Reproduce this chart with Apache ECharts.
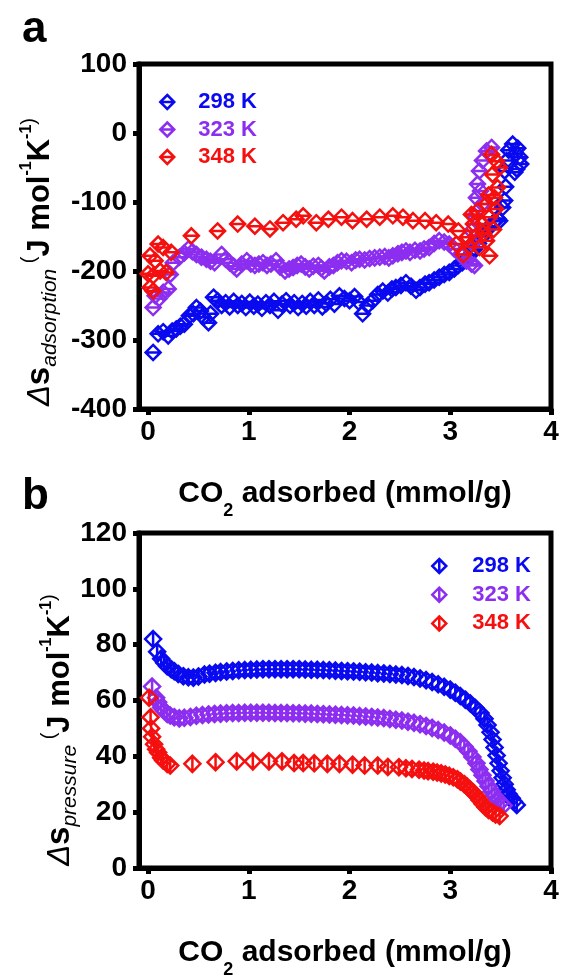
<!DOCTYPE html>
<html>
<head>
<meta charset="utf-8">
<script src="https://cdn.jsdelivr.net/npm/echarts@6/dist/echarts.min.js"></script>
<style>
  html, body { margin: 0; padding: 0; background: #fff; }
  #chart { width: 562px; height: 980px; }
</style>
</head>
<body>
<div id="chart"></div>
<script>
// 数据
var seriesNames = ['298 K', '323 K', '348 K'];
var xTicks = [0, 1, 2, 3, 4];

// a: Δs adsorption
var a298 = [[0.05,-318],[0.10,-291],[0.15,-288],[0.20,-294],[0.24,-287],[0.28,-284],[0.32,-280],[0.36,-277],[0.41,-265],[0.45,-262],
  [0.48,-253],[0.52,-258],[0.55,-267],[0.60,-275],[0.62,-262],[0.65,-238],[0.69,-243],[0.73,-250],[0.77,-246],[0.81,-252],
  [0.85,-244],[0.89,-250],[0.93,-247],[0.97,-253],[1.01,-245],[1.05,-251],[1.09,-248],[1.13,-254],[1.17,-246],[1.21,-250],
  [1.25,-244],[1.29,-257],[1.33,-248],[1.37,-243],[1.41,-250],[1.45,-246],[1.49,-253],[1.53,-247],[1.57,-251],[1.61,-244],
  [1.65,-250],[1.69,-242],[1.73,-252],[1.77,-247],[1.81,-241],[1.85,-248],[1.90,-236],[1.95,-240],[2.00,-243],[2.05,-237],
  [2.09,-245],[2.13,-262],[2.18,-250],[2.23,-243],[2.28,-234],[2.33,-229],[2.38,-232],[2.42,-226],[2.46,-224],[2.51,-221],
  [2.56,-217],[2.61,-222],[2.66,-228],[2.70,-224],[2.75,-219],[2.79,-217],[2.84,-213],[2.89,-209],[2.94,-205],[2.99,-202],
  [3.04,-197],[3.08,-192],[3.12,-188],[3.16,-185],[3.20,-176],[3.24,-168],[3.28,-160],[3.32,-150],[3.36,-140],[3.40,-135],
  [3.44,-128],[3.47,-124],[3.49,-127],[3.52,-108],[3.54,-98],[3.55,-78],[3.54,-55],[3.56,-40],[3.58,-25],[3.62,-16],
  [3.65,-30],[3.67,-22],[3.69,-35],[3.70,-45],[3.66,-52],[3.64,-57]];
var a323 = [[0.05,-253],[0.07,-236],[0.11,-240],[0.15,-231],[0.20,-226],[0.22,-205],[0.25,-188],[0.31,-180],[0.36,-174],[0.40,-168],
  [0.44,-172],[0.48,-176],[0.53,-180],[0.58,-183],[0.62,-186],[0.66,-188],[0.73,-176],[0.77,-183],[0.81,-188],[0.85,-193],
  [0.88,-197],[0.93,-190],[0.98,-185],[1.02,-190],[1.06,-192],[1.10,-190],[1.14,-188],[1.18,-192],[1.22,-190],[1.27,-185],
  [1.31,-194],[1.36,-200],[1.40,-197],[1.44,-195],[1.48,-192],[1.52,-190],[1.56,-194],[1.60,-197],[1.64,-193],[1.69,-192],
  [1.72,-196],[1.75,-200],[1.80,-194],[1.84,-192],[1.88,-188],[1.92,-185],[1.97,-186],[2.02,-188],[2.06,-184],[2.10,-183],
  [2.15,-184],[2.20,-182],[2.25,-181],[2.30,-180],[2.35,-179],[2.39,-181],[2.43,-178],[2.48,-175],[2.52,-173],[2.56,-171],
  [2.60,-173],[2.65,-170],[2.70,-171],[2.74,-168],[2.79,-166],[2.84,-160],[2.89,-156],[2.94,-158],[2.99,-161],[3.04,-168],
  [3.10,-176],[3.16,-185],[3.21,-190],[3.24,-192],[3.22,-160],[3.21,-142],[3.24,-120],[3.26,-94],[3.27,-74],[3.29,-55],
  [3.32,-40],[3.36,-26],[3.41,-21],[3.32,-103],[3.30,-84]];
var a348 = [[0.00,-204],[0.02,-224],[0.05,-229],[0.05,-207],[0.07,-185],[0.02,-178],[0.10,-161],[0.12,-200],[0.15,-166],[0.18,-202],
  [0.23,-173],[0.43,-149],[0.69,-142],[0.89,-132],[1.06,-135],[1.21,-139],[1.34,-130],[1.47,-125],[1.54,-120],[1.67,-130],
  [1.79,-125],[1.92,-122],[2.03,-127],[2.17,-125],[2.30,-122],[2.43,-120],[2.53,-122],[2.63,-127],[2.75,-127],[2.86,-130],
  [2.98,-132],[3.08,-142],[3.06,-161],[3.13,-176],[3.17,-151],[3.21,-118],[3.23,-132],[3.27,-113],[3.29,-166],[3.32,-132],
  [3.36,-103],[3.36,-156],[3.39,-122],[3.39,-178],[3.42,-60],[3.41,-31],[3.44,-94],[3.46,-41],[3.47,-79],[3.49,-50],
  [3.33,-145],[3.25,-150],[3.19,-165],[3.38,-90],[3.43,-140],[3.45,-110]];

// b: Δs pressure
var b298 = [[0.05,82],[0.09,77.5],[0.13,75],[0.16,73.5],[0.19,72.3],[0.23,71.2],[0.26,70.5],[0.30,69.5],[0.35,68.7],[0.40,68.3],
  [0.45,68.2],[0.50,68.6],[0.56,69.3],[0.61,69.6],[0.67,69.9],[0.72,70.2],[0.78,70.4],[0.84,70.6],[0.90,70.8],[0.96,70.9],
  [1.02,71.0],[1.08,71.1],[1.14,71.2],[1.20,71.2],[1.26,71.2],[1.32,71.2],[1.38,71.2],[1.44,71.2],[1.50,71.2],[1.56,71.1],
  [1.62,71.0],[1.68,71.0],[1.74,70.9],[1.80,70.8],[1.86,70.7],[1.92,70.6],[1.98,70.5],[2.04,70.4],[2.10,70.3],[2.16,70.1],
  [2.22,70.0],[2.28,69.8],[2.34,69.7],[2.40,69.5],[2.46,69.3],[2.52,69.1],[2.58,68.8],[2.64,68.4],[2.70,67.9],[2.76,67.3],
  [2.82,66.6],[2.88,65.8],[2.94,64.9],[3.00,63.9],[3.05,62.8],[3.10,61.6],[3.15,60.3],[3.20,58.9],[3.25,57.3],[3.30,55.5],
  [3.34,53.5],[3.37,51.2],[3.40,48.6],[3.42,46.0],[3.44,43.2],[3.46,40.3],[3.48,37.5],[3.50,34.8],[3.52,32.3],[3.54,30.0],
  [3.56,28.0],[3.58,26.4],[3.61,25.0],[3.63,23.8],[3.66,22.6]];
var b323 = [[0.04,65],[0.08,61],[0.10,59.4],[0.13,57.5],[0.16,56.3],[0.19,55.2],[0.22,54.6],[0.26,54.0],[0.31,53.6],[0.36,53.8],
  [0.42,54.1],[0.48,54.5],[0.54,54.8],[0.60,55.0],[0.66,55.2],[0.72,55.3],[0.78,55.4],[0.84,55.5],[0.90,55.5],[0.96,55.6],
  [1.02,55.6],[1.08,55.6],[1.14,55.6],[1.20,55.6],[1.26,55.5],[1.32,55.5],[1.38,55.5],[1.44,55.4],[1.50,55.4],[1.56,55.3],
  [1.62,55.3],[1.68,55.2],[1.74,55.1],[1.80,55.0],[1.86,54.9],[1.92,54.8],[1.98,54.7],[2.04,54.6],[2.10,54.4],[2.16,54.3],
  [2.22,54.1],[2.28,53.9],[2.34,53.7],[2.40,53.4],[2.46,53.1],[2.52,52.8],[2.58,52.4],[2.64,52.0],[2.70,51.5],[2.76,50.9],
  [2.82,50.2],[2.88,49.4],[2.94,48.5],[3.00,47.5],[3.05,46.3],[3.10,45.0],[3.14,43.5],[3.18,41.8],[3.22,39.8],[3.26,37.5],
  [3.29,35.3],[3.32,33.2],[3.35,31.2],[3.38,29.3],[3.41,27.5],[3.44,25.9],[3.47,24.6],[3.50,23.4],[3.53,22.4]];
var b348 = [[0.01,61],[0.025,54],[0.03,50],[0.04,47],[0.06,44.3],[0.08,42.5],[0.10,41.4],[0.13,39.5],[0.15,38.5],[0.19,37.3],
  [0.22,36.7],[0.44,37.3],[0.67,37.9],[0.88,38.2],[1.04,38.2],[1.20,38.2],[1.33,38.2],[1.45,37.6],[1.54,37.6],[1.65,37.5],
  [1.78,37.3],[1.90,37.3],[2.03,37.0],[2.15,36.7],[2.28,36.7],[2.38,36.2],[2.49,36.1],[2.56,35.7],[2.62,35.5],[2.69,35.2],
  [2.74,34.9],[2.78,34.7],[2.83,34.5],[2.87,34.2],[2.91,33.9],[2.95,33.5],[2.99,33.0],[3.03,32.5],[3.07,31.8],[3.10,31.0],
  [3.14,30.0],[3.17,29.1],[3.20,28.0],[3.23,27.0],[3.26,25.8],[3.29,24.4],[3.32,23.0],[3.35,21.8],[3.38,20.8],[3.42,19.9],
  [3.45,19.2],[3.49,18.6]];

var colors = ['#0a0af0', '#8c2ef0', '#f51010'];
var FONT = 'Liberation Sans, Arial, sans-serif';
// 菱形 + 横线 / 竖线
var symA = 'path://M0,-10L10,0L0,10L-10,0ZM-10,0L10,0';
var symB = 'path://M0,-10L10,0L0,10L-10,0ZM0,-10L0,10';

function scatter(name, data, idx, sym, size, color) {
  return {
    name: name,
    type: 'scatter',
    xAxisIndex: idx,
    yAxisIndex: idx,
    data: data,
    symbol: sym,
    symbolSize: size,
    itemStyle: { color: 'rgba(0,0,0,0)', borderColor: color, borderWidth: 2.5, opacity: 1 },
    emphasis: { disabled: true }
  };
}

function xAxisOf(idx) {
  return {
    gridIndex: idx, type: 'value', min: -0.09, max: 4,
    axisLine: { onZero: false, lineStyle: { color: '#000', width: 5 } },
    axisTick: { customValues: xTicks, length: 6, lineStyle: { color: '#000', width: 5 } },
    axisLabel: { customValues: xTicks, color: '#000', fontSize: 28, fontWeight: 'bold', fontFamily: FONT, margin: 9 },
    splitLine: { show: false },
    name: 'CO{sub|2} adsorbed (mmol/g)',
    nameLocation: 'middle',
    nameGap: 58,
    nameTextStyle: {
      color: '#000', fontSize: 30, fontWeight: 'bold', fontFamily: FONT, lineHeight: 53,
      rich: { sub: { fontSize: 18, fontWeight: 'bold', fontFamily: FONT, color: '#000', lineHeight: 18, verticalAlign: 'bottom' } }
    }
  };
}

function yAxisOf(idx, min, max, step) {
  return {
    gridIndex: idx, type: 'value', min: min, max: max, interval: step,
    axisLine: { onZero: false, lineStyle: { color: '#000', width: 5 } },
    axisTick: { length: 6, lineStyle: { color: '#000', width: 5 } },
    axisLabel: { color: '#000', fontSize: 28, fontWeight: 'bold', fontFamily: FONT, margin: 12 },
    splitLine: { show: false }
  };
}

function legendOf(left, top, gap, pad, icon) {
  return {
    orient: 'vertical', left: left, top: top, padding: 0,
    itemWidth: 14, itemHeight: 14, itemGap: gap,
    selectedMode: false,
    textStyle: { fontSize: 22, fontWeight: 'bold', fontFamily: FONT, lineHeight: 22, padding: [0, 0, 0, pad] },
    data: seriesNames.map(function (n, i) {
      return {
        name: n, icon: icon,
        itemStyle: { color: 'rgba(0,0,0,0)', borderColor: colors[i], borderWidth: 2.5 },
        textStyle: { color: colors[i] }
      };
    })
  };
}

var yRich = {
  d: { fontSize: 31, fontStyle: 'italic', fontFamily: FONT, color: '#000', lineHeight: 42 },
  s: { fontSize: 33, fontWeight: 'bold', fontFamily: FONT, color: '#000', lineHeight: 42 },
  sub: { fontSize: 21, fontStyle: 'italic', fontFamily: FONT, color: '#000', lineHeight: 19, verticalAlign: 'bottom' },
  m: { fontSize: 31, fontWeight: 'bold', fontFamily: FONT, color: '#000', lineHeight: 42 },
  sup: { fontSize: 16, fontWeight: 'bold', fontFamily: FONT, color: '#000', lineHeight: 16, verticalAlign: 'top' },
  p: { fontSize: 20, fontFamily: FONT, color: '#000', lineHeight: 20, verticalAlign: 'top' }
};

function yTitle(x, y, sub) {
  return {
    type: 'text', x: x, y: y, rotation: Math.PI / 2,
    style: {
      text: '{d|Δ}{s|s}{sub|' + sub + '}{p| (}{m|J mol}{sup|-1}{m|K}{sup|-1}{p|)}',
      rich: yRich, align: 'center', verticalAlign: 'middle'
    }
  };
}

var chart = echarts.init(document.getElementById('chart'));

var option = {
  animation: false,
  backgroundColor: '#fff',
  textStyle: { fontFamily: FONT },
  grid: [
    { left: 139, right: 11, top: 64, height: 345, show: true, borderColor: '#000', borderWidth: 5 },
    { left: 139, right: 11, top: 533, height: 344, show: true, borderColor: '#000', borderWidth: 5 }
  ],
  xAxis: [xAxisOf(0), xAxisOf(1)],
  yAxis: [yAxisOf(0, -400, 100, 100), yAxisOf(1, 0, 120, 20)],
  legend: [legendOf(159, 91, 5.5, 19, symA), legendOf(431, 555, 6.7, 21, symB)],
  graphic: [
    { type: 'text', x: 22, y: 30, style: { text: 'a', fontSize: 44, fontWeight: 'bold', fontFamily: FONT, fill: '#000', verticalAlign: 'middle' } },
    { type: 'text', x: 22, y: 497, style: { text: 'b', fontSize: 44, fontWeight: 'bold', fontFamily: FONT, fill: '#000', verticalAlign: 'middle' } },
    yTitle(40, 262, 'adsorption'),
    yTitle(60, 730, 'pressure')
  ],
  series: [
    scatter(seriesNames[0], a298, 0, symA, 15, colors[0]),
    scatter(seriesNames[1], a323, 0, symA, 15, colors[1]),
    scatter(seriesNames[2], a348, 0, symA, 15, colors[2]),
    scatter(seriesNames[0], b298, 1, symB, 16, colors[0]),
    scatter(seriesNames[1], b323, 1, symB, 16, colors[1]),
    scatter(seriesNames[2], b348, 1, symB, 16, colors[2])
  ]
};
chart.setOption(option);
</script>
</body>
</html>
